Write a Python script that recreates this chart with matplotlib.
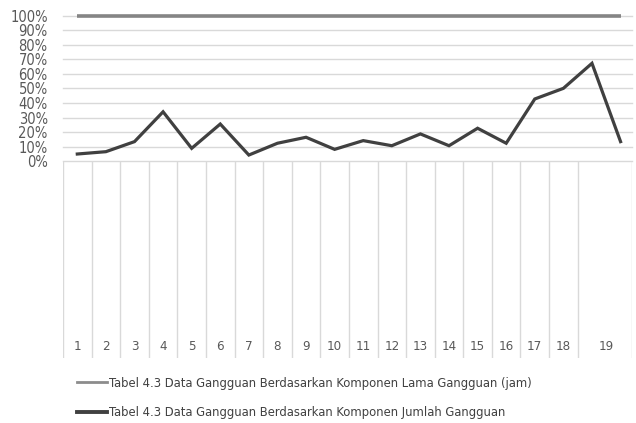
import matplotlib
matplotlib.use("Agg")
import matplotlib.pyplot as plt
from matplotlib.lines import Line2D

# Data
points = list(range(1, 21))
lama = [100] * 20
jumlah = [5.0, 6.6, 13.5, 34.0, 8.9, 25.6, 4.3, 12.4, 16.5, 8.2,
          14.2, 10.7, 18.8, 10.7, 22.7, 12.4, 42.8, 50.1, 67.3, 13.5]
x_labels = [str(i) for i in range(1, 19)] + ["19"]
x_label_pos = list(range(1, 19)) + [19.5]
y_ticks = list(range(0, 101, 10))
y_ticklabels = [f"{v}%" for v in y_ticks]
legend_labels = ["Tabel 4.3 Data Gangguan Berdasarkan Komponen Lama Gangguan (jam)",
                 "Tabel 4.3 Data Gangguan Berdasarkan Komponen Jumlah Gangguan"]

W, H = 636, 423
fig = plt.figure(figsize=(W / 100, H / 100), dpi=100)
left, right, top, bottom = 63, 632, 15.7, 358
ax = fig.add_axes([left / W, 1 - bottom / H, (right - left) / W, (bottom - top) / H])

ymin = -135.1
ax.set_ylim(ymin, 100)
ax.set_xlim(0.5, 20.4)

grid_c = "#d9d9d9"
text_c = "#595959"
for v in y_ticks:
    ax.axhline(v, color=grid_c, lw=1.0, zorder=1, clip_on=False)
# vertical category separators (below 0%)
seps = [i + 0.5 for i in range(0, 19)] + [20.4]
ax.vlines(seps, ymin, 0, color=grid_c, lw=1.0, zorder=1)

ax.plot(points, lama, color="#858585", lw=2.6, solid_capstyle="butt", zorder=3, clip_on=False)
ax.plot(points, jumlah, color="#404040", lw=2.3, solid_joinstyle="miter", zorder=3, clip_on=False)

for s in ax.spines.values():
    s.set_visible(False)
ax.set_xticks([])
ax.set_yticks(y_ticks)
ax.set_yticklabels(y_ticklabels, fontsize=10.5, color=text_c, fontstretch="condensed")
ax.tick_params(axis="y", length=0, pad=11)

for pos, lab in zip(x_label_pos, x_labels):
    ax.text(pos, -127.5, lab, ha="center", va="center", fontsize=9.5, color=text_c,
            fontstretch="condensed")

handles = [Line2D([], [], color="#8c8c8c", lw=2.0),
           Line2D([], [], color="#404040", lw=2.8)]
fig.legend(handles, legend_labels, loc="upper left", bbox_to_anchor=(77 / W, 1 - 377 / H),
           frameon=False, prop={"size": 9.3, "stretch": "condensed"}, labelcolor="#404040",
           handlelength=2.3, handletextpad=0.2, labelspacing=1.25, borderpad=0, borderaxespad=0)

fig.savefig("out.png", dpi=100)
